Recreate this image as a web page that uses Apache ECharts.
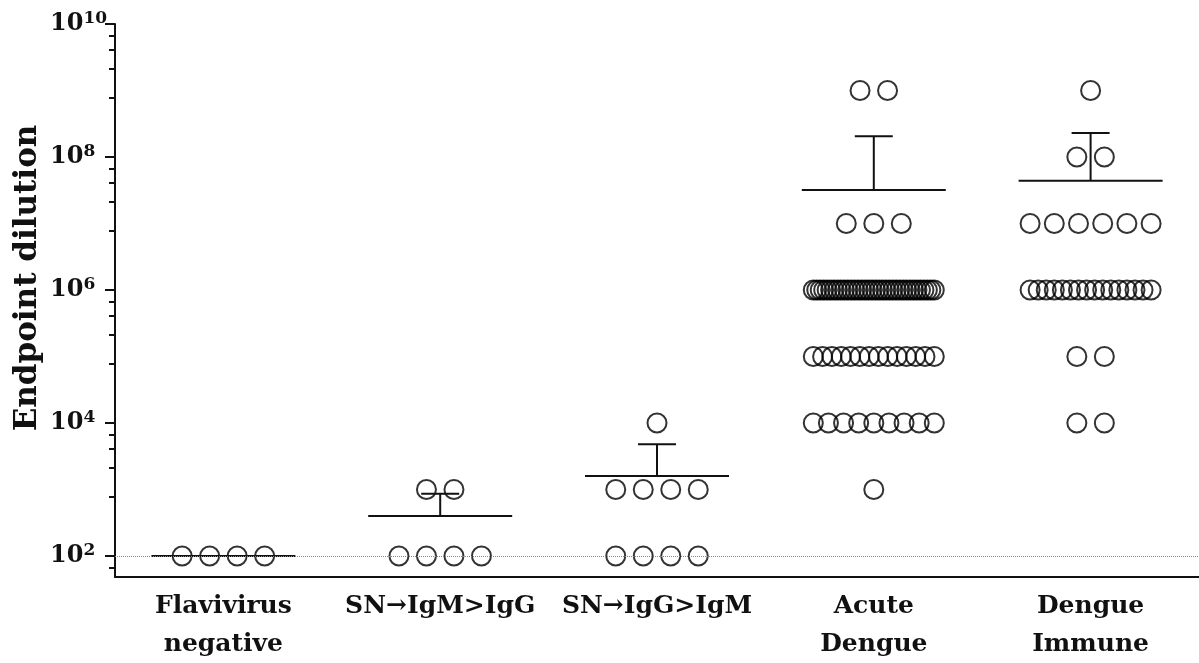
<!DOCTYPE html>
<html><head><meta charset="utf-8">
<script src="https://cdn.jsdelivr.net/npm/echarts@6/dist/echarts.min.js"></script>
<style>html,body{margin:0;padding:0;background:#fff}#chart{width:1199px;height:663px}</style>
</head><body><div id="chart"></div>
<script>
// ---- data ----
const categories = ['Flavivirus\nnegative', 'SN\u2192IgM>IgG', 'SN\u2192IgG>IgM', 'Acute\nDengue', 'Dengue\nImmune'];

// each group: distinct endpoint dilutions and the number of subjects at each
const flavivirusNegativeValues = [100];
const flavivirusNegativeCounts = [4];
const snIgMgtIgGValues = [1000, 100];
const snIgMgtIgGCounts = [2, 4];
const snIgGgtIgMValues = [10000, 1000, 100];
const snIgGgtIgMCounts = [1, 4, 4];
const acuteDengueValues = [1e9, 1e7, 1e6, 1e5, 1e4, 1e3];
const acuteDengueCounts = [2, 3, 36, 14, 9, 1];
const dengueImmuneValues = [1e9, 1e8, 1e7, 1e6, 1e5, 1e4];
const dengueImmuneCounts = [1, 2, 6, 16, 2, 2];

const yMajorTicks = [1e2, 1e4, 1e6, 1e8, 1e10];
const yMinorTicks = [67, 770, 2100, 4100, 6700, 7.7e4, 2.1e5, 4.1e5, 6.7e5,
  7.7e6, 2.1e7, 4.1e7, 6.7e7, 7.7e8, 2.1e9, 4.1e9, 6.7e9];
const referenceLine = 100;

// ---- build ----
const groups = [
  [flavivirusNegativeValues, flavivirusNegativeCounts],
  [snIgMgtIgGValues, snIgMgtIgGCounts],
  [snIgGgtIgMValues, snIgGgtIgMCounts],
  [acuteDengueValues, acuteDengueCounts],
  [dengueImmuneValues, dengueImmuneCounts]
];

const SPACING = 27.5, MAXSPAN = 121;
const scatterData = [];
const statsData = [];
groups.forEach(function (g, gi) {
  const vals = g[0], cnts = g[1];
  const all = [];
  vals.forEach(function (v, k) {
    const n = cnts[k];
    const sp = n > 1 ? Math.min(SPACING, MAXSPAN / (n - 1)) : 0;
    for (let i = 0; i < n; i++) {
      scatterData.push({ value: [gi, v], symbolOffset: [(i - (n - 1) / 2) * sp, 0] });
      all.push(v);
    }
  });
  const mean = all.reduce(function (a, b) { return a + b; }, 0) / all.length;
  const ss = all.reduce(function (a, b) { return a + (b - mean) * (b - mean); }, 0);
  const sd = all.length > 1 ? Math.sqrt(ss / (all.length - 1)) : 0;
  statsData.push([gi, mean, mean + sd]);
});

const FONT = '"DejaVu Serif", "Liberation Serif", serif';
const INK = '#111';

const chart = echarts.init(document.getElementById('chart'), null, { renderer: 'canvas' });
chart.setOption({
  animation: false,
  backgroundColor: '#fff',
  grid: { left: 115, top: 24, width: 1087.5, height: 553 },
  xAxis: {
    type: 'category', data: categories, boundaryGap: true,
    axisLine: { lineStyle: { color: INK, width: 2 } },
    axisTick: { alignWithLabel: true, length: 9, lineStyle: { color: INK, width: 2 } },
    axisLabel: { interval: 0, margin: 10, fontFamily: FONT, fontWeight: 'bold', fontSize: 25, lineHeight: 38, color: INK },
    splitLine: { show: false }
  },
  yAxis: [{
    type: 'log', logBase: 10, min: 48.3, max: 1e10, position: 'left',
    axisLine: { show: true, lineStyle: { color: INK, width: 2 } },
    axisTick: { show: true, length: 10, customValues: yMajorTicks, lineStyle: { color: INK, width: 2 } },
    axisLabel: {
      customValues: yMajorTicks, align: 'left', margin: 65, color: INK,
      formatter: function (v) { return '{b|10}{s|' + Math.round(Math.log10(v)) + '}'; },
      rich: {
        b: { fontFamily: FONT, fontWeight: 'bold', fontSize: 24, lineHeight: 28, color: INK },
        s: { fontFamily: FONT, fontWeight: 'bold', fontSize: 17, lineHeight: 17, verticalAlign: 'top', color: INK }
      }
    },
    splitLine: { show: false }, minorTick: { show: false }
  }, {
    type: 'log', logBase: 10, min: 48.3, max: 1e10, position: 'left',
    axisLine: { show: false },
    axisTick: { show: true, length: 6, customValues: yMinorTicks, lineStyle: { color: INK, width: 2 } },
    axisLabel: { show: false }, splitLine: { show: false }
  }],
  series: [{
    type: 'scatter', symbol: 'circle', symbolSize: 19,
    itemStyle: { color: 'rgba(0,0,0,0)', borderColor: '#000', borderWidth: 2 },
    data: scatterData,
    markLine: {
      silent: true, symbol: 'none', label: { show: false },
      lineStyle: { type: 'dotted', color: '#888', width: 1 },
      data: [{ yAxis: referenceLine }]
    }
  }, {
    type: 'custom', z: 3, data: statsData,
    renderItem: function (params, api) {
      const c = api.coord([api.value(0), api.value(1)]);
      const u = api.coord([api.value(0), api.value(2)]);
      const st = { stroke: INK, lineWidth: 2 };
      return { type: 'group', children: [
        { type: 'line', shape: { x1: c[0] - 72, y1: c[1], x2: c[0] + 72, y2: c[1] }, style: st },
        { type: 'line', shape: { x1: c[0], y1: c[1], x2: u[0], y2: u[1] }, style: st },
        { type: 'line', shape: { x1: u[0] - 19, y1: u[1], x2: u[0] + 19, y2: u[1] }, style: st }
      ] };
    }
  }],
  graphic: [{
    type: 'text', x: 28, y: 278, rotation: Math.PI / 2,
    style: { text: 'Endpoint dilution', fontFamily: FONT, fontWeight: 'bold', fontSize: 31, fill: INK, align: 'center', verticalAlign: 'middle' }
  }]
});
</script></body></html>
